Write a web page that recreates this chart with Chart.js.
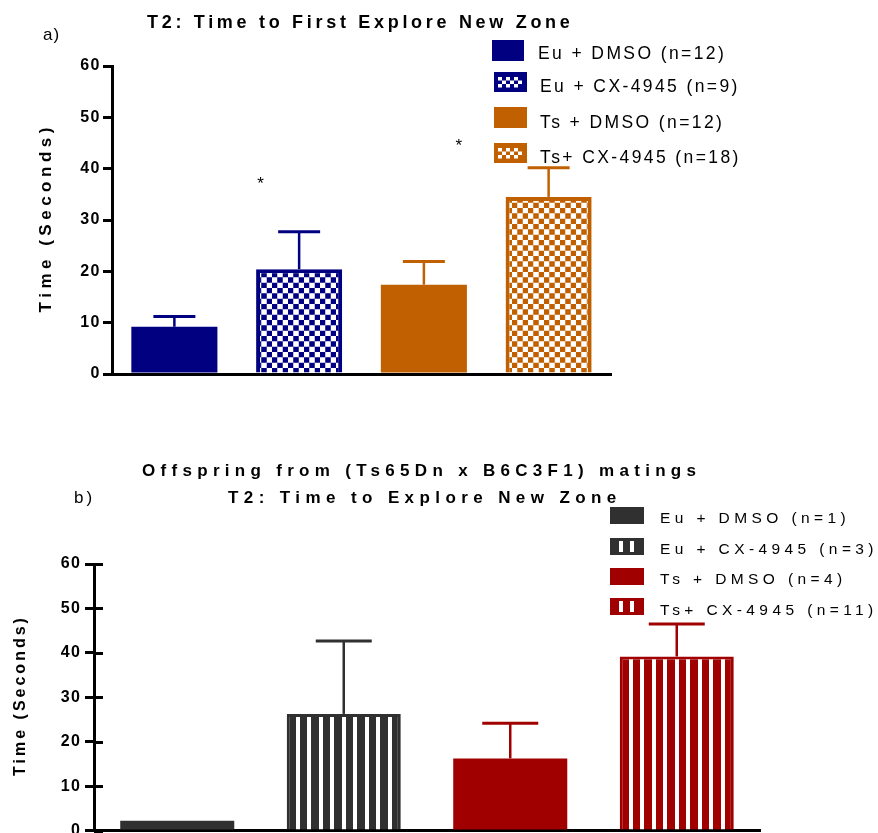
<!DOCTYPE html>
<html>
<head>
<meta charset="utf-8">
<script src="https://cdn.jsdelivr.net/npm/chart.js@4.4.1/dist/chart.umd.min.js"></script>
<style>
  html, body { margin: 0; padding: 0; background: #fff; }
  #wrap { position: relative; width: 878px; height: 833px; overflow: hidden; }
  #wrap canvas { position: absolute; left: 0; top: 0; }
</style>
</head>
<body>
<div id="wrap">
  <canvas id="chartA" width="878" height="833"></canvas>
  <canvas id="chartB" width="878" height="844"></canvas>
</div>
<script>
// ---- Panel a): time to first explore the new zone ----
const groupsA = ['Eu + DMSO (n=12)', 'Eu + CX-4945 (n=9)', 'Ts + DMSO (n=12)', 'Ts+ CX-4945 (n=18)'];
const meanA = [9.2, 20.4, 17.4, 34.5];
const semA = [2.0, 7.3, 4.5, 5.7];
// significance stars, x in category units, y in seconds
const starXA = [0.69, 2.28];
const starYA = [37.9, 45.3];

// ---- Panel b): offspring from (Ts65Dn x B6C3F1) matings ----
const groupsB = ['Eu + DMSO (n=1)', 'Eu + CX-4945 (n=3)', 'Ts + DMSO (n=4)', 'Ts+ CX-4945 (n=11)'];
const meanB = [2.3, 26.3, 16.3, 39.2];
const semB = [0, 16.4, 7.9, 7.3];

const yTickValues = [0, 10, 20, 30, 40, 50, 60];

const NAVY = '#000080', ORANGE = '#C06000', DARK = '#303030', RED = '#A00000';
const coloursA = [NAVY, NAVY, ORANGE, ORANGE];
const coloursB = [DARK, DARK, RED, RED];
const patternedA = [false, true, false, true];
const patternedB = [false, true, false, true];

const FONT = '"Liberation Sans", Arial, Helvetica, sans-serif';
const BAR_PCT_A = 0.69;
const BAR_PCT_B = 0.685;

// checkerboard fill for the CX-4945 bars of panel a)
function checkerPattern(ctx, colour) {
  const c = document.createElement('canvas');
  c.width = 16; c.height = 16;
  const g = c.getContext('2d');
  g.fillStyle = '#fff'; g.fillRect(0, 0, 16, 16);
  g.fillStyle = colour;
  g.fillRect(0, 0, 8, 8); g.fillRect(8, 8, 8, 8);
  const p = ctx.createPattern(c, 'repeat');
  p.setTransform(new DOMMatrix().scale(2 / 3));
  return p;
}

// vertical stripes for the CX-4945 bars of panel b), anchored at the bar's left edge
function stripePattern(ctx, colour, startX) {
  const c = document.createElement('canvas');
  c.width = 23; c.height = 4;
  const g = c.getContext('2d');
  g.fillStyle = colour; g.fillRect(0, 0, 23, 4);
  g.fillStyle = '#fff'; g.fillRect(0, 0, 8, 4);
  const p = ctx.createPattern(c, 'repeat');
  p.setTransform(new DOMMatrix().translate(startX, 0).scale(0.5, 1));
  return p;
}

function spacedText(ctx, text, x, y, font, spacing, colour) {
  ctx.save();
  ctx.font = font;
  ctx.letterSpacing = spacing + 'px';
  ctx.fillStyle = colour || '#000';
  ctx.textAlign = 'left';
  ctx.textBaseline = 'alphabetic';
  ctx.fillText(text, x, y);
  ctx.restore();
}

function verticalTitle(ctx, text, cx, cy, font, spacing) {
  ctx.save();
  ctx.font = font;
  ctx.letterSpacing = spacing + 'px';
  ctx.fillStyle = '#000';
  ctx.textAlign = 'left';
  ctx.textBaseline = 'middle';
  const w = ctx.measureText(text).width - spacing;
  ctx.translate(cx, cy);
  ctx.rotate(-Math.PI / 2);
  ctx.fillText(text, -w / 2, 0);
  ctx.restore();
}

// error bars (mean + SEM, upper arm only)
function errorBarPlugin(means, sems, colours, capHalf) {
  return {
    id: 'errorBars',
    afterDatasetsDraw(chart) {
      const { ctx, scales: { x, y } } = chart;
      ctx.save();
      means.forEach((m, i) => {
        if (!sems[i]) return;
        const cx = x.getPixelForValue(i);
        const y0 = y.getPixelForValue(m);
        const y1 = y.getPixelForValue(m + sems[i]);
        ctx.strokeStyle = colours[i];
        ctx.lineWidth = 2.5;
        ctx.beginPath(); ctx.moveTo(cx, y0); ctx.lineTo(cx, y1); ctx.stroke();
        ctx.lineWidth = 3;
        ctx.beginPath(); ctx.moveTo(cx - capHalf, y1); ctx.lineTo(cx + capHalf, y1); ctx.stroke();
      });
      ctx.restore();
    }
  };
}

// spaced tick labels
const tickSpacing = (px) => ({
  id: 'tickSpacing',
  beforeDraw(chart) { chart.ctx.letterSpacing = px + 'px'; },
  afterDraw(chart) { chart.ctx.letterSpacing = '0px'; }
});

function yScale(width, tickLen, pad) {
  return {
    min: 0, max: 60,
    afterBuildTicks(s) { s.ticks = yTickValues.map(v => ({ value: v })); },
    afterFit(s) { s.width = width; },
    grid: { display: true, drawOnChartArea: false, drawTicks: true, tickLength: tickLen, color: '#000', lineWidth: 3 },
    border: { display: true, color: '#000', width: 3 },
    ticks: { color: '#000', padding: pad, font: { family: FONT, size: 16, weight: 'bold' } }
  };
}

function xScale(height) {
  return {
    afterFit(s) { s.height = height; },
    grid: { display: false },
    border: { display: true, color: '#000', width: 3 },
    ticks: { display: false }
  };
}

// ---------- chart a) ----------
const ctxA = document.getElementById('chartA').getContext('2d');
new Chart(ctxA, {
  type: 'bar',
  data: {
    labels: groupsA,
    datasets: [{
      data: meanA,
      backgroundColor: (c) => patternedA[c.dataIndex] ? checkerPattern(c.chart.ctx, coloursA[c.dataIndex]) : coloursA[c.dataIndex],
      borderColor: coloursA,
      borderWidth: (c) => patternedA[c.dataIndex] ? 4 : 0,
      borderSkipped: 'bottom',
      barPercentage: BAR_PCT_A,
      categoryPercentage: 1
    }]
  },
  options: {
    responsive: false, animation: false, events: [],
    layout: { padding: { left: 0, top: 66, right: 267, bottom: 0 } },
    plugins: { legend: { display: false }, title: { display: false }, tooltip: { enabled: false } },
    scales: { x: xScale(833 - 374), y: yScale(112, 9, 2) }
  },
  plugins: [
    tickSpacing(1.5),
    errorBarPlugin(meanA, semA, coloursA, 21),
    {
      id: 'decorA',
      afterDraw(chart) {
        const ctx = chart.ctx;
        const { x, y } = chart.scales;
        spacedText(ctx, 'T2: Time to First Explore New Zone', 147, 28, 'bold 18px ' + FONT, 3.7);
        spacedText(ctx, 'a)', 43, 40, '17px ' + FONT, 1);
        verticalTitle(ctx, 'Time (Seconds)', 46, 220, 'bold 17px ' + FONT, 4.5);
        // significance stars
        const step = x.getPixelForValue(1) - x.getPixelForValue(0);
        starXA.forEach((sx, i) => {
          const px = x.getPixelForValue(0) + sx * step;
          const py = y.getPixelForValue(starYA[i]);
          ctx.save();
          ctx.font = '17px ' + FONT;
          ctx.textAlign = 'center'; ctx.textBaseline = 'alphabetic';
          ctx.fillStyle = '#000';
          ctx.fillText('*', px, py + 10);
          ctx.restore();
        });
        // legend
        const boxes = [[492, 40, 32, 21], [494, 72, 33, 20], [494, 107, 33, 21], [494, 143, 33, 20]];
        const textX = [538, 540, 540, 540];
        const base = [59, 92, 128, 163];
        groupsA.forEach((label, i) => {
          const [bx, by, bw, bh] = boxes[i];
          ctx.fillStyle = coloursA[i];
          ctx.fillRect(bx, by, bw, bh);
          if (patternedA[i]) {
            ctx.fillStyle = '#fff';
            for (let r = 0; r < 3; r++) {
              for (let k = 0; k < 6; k++) {
                if ((r + k) % 2 === 0 && !(r === 1 && (k === 2 || k === 4))) {
                  ctx.fillRect(bx + 4 + k * 4, by + 5 + r * 3.5, 4, 3.5);
                }
              }
            }
          }
          spacedText(ctx, label, textX[i], base[i], '17.5px ' + FONT, 2.4);
        });
      }
    }
  ]
});

// ---------- chart b) ----------
const ctxB = document.getElementById('chartB').getContext('2d');
new Chart(ctxB, {
  type: 'bar',
  data: {
    labels: groupsB,
    datasets: [{
      data: meanB,
      backgroundColor: (c) => {
        const i = c.dataIndex;
        if (!patternedB[i]) return coloursB[i];
        const xs = c.chart.scales && c.chart.scales.x;
        if (!xs || !c.chart.chartArea) return coloursB[i];
        const w = (xs.getPixelForValue(1) - xs.getPixelForValue(0)) * BAR_PCT_B;
        const left = xs.getPixelForValue(i) - w / 2;
        return stripePattern(c.chart.ctx, coloursB[i], left + 9);
      },
      borderColor: coloursB,
      borderWidth: (c) => patternedB[c.dataIndex] ? 3 : 0,
      borderSkipped: 'bottom',
      barPercentage: BAR_PCT_B,
      categoryPercentage: 1
    }]
  },
  options: {
    responsive: false, animation: false, events: [],
    layout: { padding: { left: 0, top: 564, right: 118, bottom: 0 } },
    plugins: { legend: { display: false }, title: { display: false }, tooltip: { enabled: false } },
    scales: { x: xScale(3), y: yScale(94, 9, 3.5) }
  },
  plugins: [
    tickSpacing(1.5),
    errorBarPlugin(meanB, semB, coloursB, 28),
    {
      id: 'decorB',
      afterDraw(chart) {
        const ctx = chart.ctx;
        const { y } = chart.scales;
        const left = chart.chartArea.left;
        // tick marks cross the axis
        ctx.save();
        ctx.strokeStyle = '#000'; ctx.lineWidth = 3;
        yTickValues.forEach(v => {
          const py = Math.round(y.getPixelForValue(v)) + 0.5;
          ctx.beginPath(); ctx.moveTo(left, py); ctx.lineTo(left + 9, py); ctx.stroke();
        });
        ctx.restore();
        spacedText(ctx, 'Offspring from (Ts65Dn x B6C3F1) matings', 142, 476, 'bold 17px ' + FONT, 5.3);
        spacedText(ctx, 'T2: Time to Explore New Zone', 228, 503, 'bold 17px ' + FONT, 5.4);
        spacedText(ctx, 'b)', 74, 503, '17px ' + FONT, 3);
        verticalTitle(ctx, 'Time (Seconds)', 21, 697, 'bold 16px ' + FONT, 3);
        // legend
        const boxY = [507, 538, 568, 598];
        const base = [523, 554, 584, 615];
        groupsB.forEach((label, i) => {
          ctx.fillStyle = coloursB[i];
          ctx.fillRect(610, boxY[i], 34, 17);
          if (patternedB[i]) {
            ctx.fillStyle = '#fff';
            ctx.fillRect(619, boxY[i] + 3, 4, 11);
            ctx.fillRect(630, boxY[i] + 3, 4, 11);
          }
          spacedText(ctx, label, 660, base[i], '15.5px ' + FONT, 4.4);
        });
      }
    }
  ]
});
</script>
</body>
</html>
